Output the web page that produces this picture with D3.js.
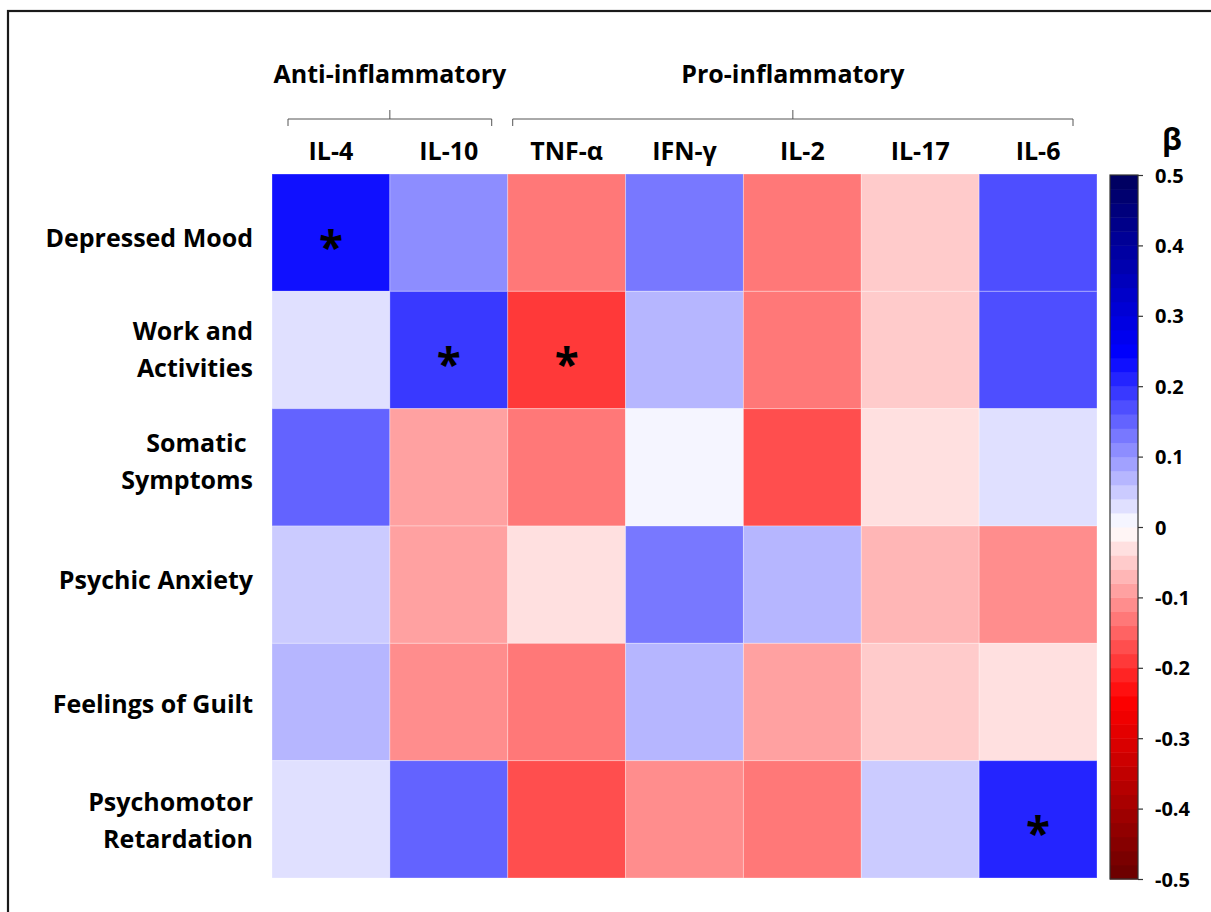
<!DOCTYPE html>
<html>
<head>
<meta charset="utf-8">
<script src="https://cdn.jsdelivr.net/npm/d3@7"></script>
<style>
  html, body { margin: 0; padding: 0; background: #fff; }
  svg { display: block; }
  text { font-family: "Open Sans", "Noto Sans", sans-serif; font-weight: 700; fill: #000; }
</style>
</head>
<body>
<svg id="chart" width="1211" height="912"></svg>
<script>
// Cytokines (columns) and HAM-D symptom items (rows)
const cytokines = ["IL-4", "IL-10", "TNF-\u03b1", "IFN-\u03b3", "IL-2", "IL-17", "IL-6"];
const symptoms = [
  ["Depressed Mood"],
  ["Work and", "Activities"],
  ["Somatic\u00a0", "Symptoms"],
  ["Psychic Anxiety"],
  ["Feelings of Guilt"],
  ["Psychomotor", "Retardation"]
];
// Standardised regression coefficients (beta), one array per symptom row
const depressedMood   = [0.225, 0.105, -0.125, 0.124, -0.128, -0.048, 0.170];
const workActivities  = [0.029, 0.185, -0.183, 0.067, -0.125, -0.050, 0.170];
const somaticSymptoms = [0.155, -0.089, -0.125, 0.014, -0.172, -0.026, 0.033];
const psychicAnxiety  = [0.050, -0.089, -0.029, 0.124, 0.069, -0.070, -0.112];
const feelingsGuilt   = [0.070, -0.112, -0.128, 0.067, -0.089, -0.048, -0.029];
const psychomotorRet  = [0.029, 0.155, -0.168, -0.106, -0.135, 0.050, 0.202];
const betaRows = [depressedMood, workActivities, somaticSymptoms, psychicAnxiety, feelingsGuilt, psychomotorRet];
// Significant associations: [row, column]
const significant = [[0, 0], [1, 1], [1, 2], [5, 6]];
// Cytokine groups: label and column span
const groupNames = ["Anti-inflammatory", "Pro-inflammatory"];
const groupSpans = [[0, 1], [2, 6]];
// Colour bar ticks
const betaTicks = [0.5, 0.4, 0.3, 0.2, 0.1, 0, -0.1, -0.2, -0.3, -0.4, -0.5];

const svg = d3.select("#chart");

// Outer frame
svg.append("rect")
  .attr("x", 8).attr("y", 11).attr("width", 1240).attr("height", 940)
  .attr("fill", "none").attr("stroke", "#1a1a1a").attr("stroke-width", 2.2);

const mapLeft = 272, mapRight = 1097, mapTop = 174, mapBottom = 878;
const x = d3.scaleBand().domain(d3.range(cytokines.length)).range([mapLeft, mapRight]);
const y = d3.scaleBand().domain(d3.range(symptoms.length)).range([mapTop, mapBottom]);

// Diverging colour map, quantised into 50 steps of 0.02
const cont = d3.scaleLinear()
  .domain([-0.5, -0.245, 0, 0.245, 0.5])
  .range(["#680000", "#ff0000", "#ffffff", "#0000ff", "#00005c"])
  .clamp(true);
const step = 0.02;
const bandOf = v => Math.max(0, Math.min(49, Math.floor((v + 0.5) / step + 1e-9)));
const bandCentre = i => -0.5 + step * (i + 0.5);
const colour = v => cont(bandCentre(bandOf(v)));

// Heatmap cells
const cells = [];
betaRows.forEach((row, r) => row.forEach((v, c) => cells.push({ r, c, v })));
svg.append("g").selectAll("rect").data(cells).join("rect")
  .attr("x", d => x(d.c)).attr("y", d => y(d.r))
  .attr("width", x.bandwidth()).attr("height", y.bandwidth())
  .attr("fill", d => colour(d.v))
  .attr("stroke", "rgba(255,255,255,0.3)").attr("stroke-width", 1);

// Significance markers
svg.append("g").selectAll("text").data(significant).join("text")
  .attr("x", d => x(d[1]) + x.bandwidth() / 2)
  .attr("y", d => y(d[0]) + y.bandwidth() / 2 + 30)
  .attr("text-anchor", "middle")
  .style("font-size", "44px")
  .text("*");

// Column labels
svg.append("g").selectAll("text").data(cytokines).join("text")
  .attr("x", (d, i) => x(i) + x.bandwidth() / 2)
  .attr("y", 160)
  .attr("text-anchor", "middle")
  .style("font-size", "25px")
  .text(d => d);

// Row labels (two-line labels are centred on the row; small per-row nudges)
const labelNudge = [5, -1, -6, -5, 2, 1];
const rowG = svg.append("g").selectAll("text").data(symptoms).join("text")
  .attr("text-anchor", "end")
  .style("font-size", "25px");
rowG.each(function (lines, r) {
  const cy = y(r) + y.bandwidth() / 2;
  const lh = 37;
  lines.forEach((ln, k) => {
    d3.select(this).append("tspan")
      .attr("x", 253)
      .attr("y", cy + 9 + labelNudge[r] + (k - (lines.length - 1) / 2) * lh)
      .text(ln);
  });
});

// Group brackets and labels
const bracketPad = [[16, 16], [5, 24]];
groupSpans.forEach((span, g) => {
  const x0 = x(span[0]) + bracketPad[g][0];
  const x1 = x(span[1]) + x.bandwidth() - bracketPad[g][1];
  const xm = (x0 + x1) / 2;
  const yb = 119;
  const path = d3.path();
  path.moveTo(x0, yb + 7);
  path.lineTo(x0, yb);
  path.lineTo(x1, yb);
  path.lineTo(x1, yb + 7);
  path.moveTo(xm, yb);
  path.lineTo(xm, yb - 9);
  svg.append("path").attr("d", path.toString())
    .attr("fill", "none").attr("stroke", "#555").attr("stroke-width", 1);
  svg.append("text")
    .attr("x", xm).attr("y", 83)
    .attr("text-anchor", "middle")
    .style("font-size", "25px")
    .text(groupNames[g]);
});

// Colour bar
const cbX = 1110, cbW = 28, cbTop = 175, cbBottom = 879;
const cbScale = d3.scaleLinear().domain([-0.5, 0.5]).range([cbBottom, cbTop]);
svg.append("g").selectAll("rect").data(d3.range(50)).join("rect")
  .attr("x", cbX)
  .attr("y", i => cbScale(bandCentre(i) + step / 2))
  .attr("width", cbW)
  .attr("height", i => cbScale(bandCentre(i) - step / 2) - cbScale(bandCentre(i) + step / 2) + 0.5)
  .attr("fill", i => cont(bandCentre(i)));
svg.append("rect")
  .attr("x", cbX).attr("y", cbTop).attr("width", cbW).attr("height", cbBottom - cbTop)
  .attr("fill", "none").attr("stroke", "#333").attr("stroke-width", 1.2);

const cbAxis = d3.axisRight(cbScale)
  .tickValues(betaTicks)
  .tickSize(5)
  .tickFormat(d => d === 0 ? "0" : d3.format(".1f")(d).replace("\u2212", "-"));
const axG = svg.append("g")
  .attr("transform", `translate(${cbX + cbW},0)`)
  .call(cbAxis);
axG.select(".domain").remove();
axG.selectAll(".tick line").attr("stroke", "#333").attr("stroke-width", 1.2);
axG.selectAll(".tick text")
  .attr("x", 17)
  .attr("dy", "0.35em")
  .style("font-size", "20px")
  .style("font-family", "'Open Sans', sans-serif")
  .style("font-weight", 700)
  .attr("fill", "#000");

svg.append("text")
  .attr("x", 1172).attr("y", 150)
  .attr("text-anchor", "middle")
  .style("font-size", "30px")
  .text("\u03b2");
</script>
</body>
</html>
